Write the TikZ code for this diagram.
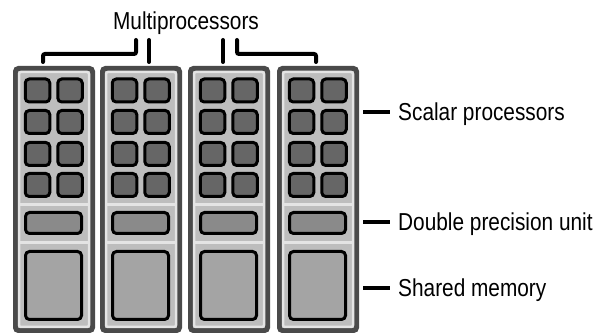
\documentclass[tikz,border=0pt]{standalone}
\usepackage{fontspec}
\setmainfont{Liberation Sans}[FakeStretch=0.85]
\definecolor{pdark}{HTML}{4A4A4A}
\definecolor{plight}{HTML}{E4E4E4}
\definecolor{pbody}{HTML}{BDBDBD}
\definecolor{cellgray}{HTML}{666666}
\definecolor{dpgray}{HTML}{8A8A8A}
\definecolor{smgray}{HTML}{A4A4A4}
\begin{document}
\begin{tikzpicture}[x=1pt,y=-1pt,
  panelout/.style={draw=pdark, line width=5pt, fill=pbody, rounded corners=3pt, inner sep=0pt},
  panelin/.style={draw=plight, line width=2.5pt, rounded corners=2pt, inner sep=0pt},
  strip/.style={draw=plight, line width=3pt},
  cell/.style={draw=black, line width=3pt, fill=cellgray, rounded corners=4pt, inner sep=0pt, minimum width=24.5pt, minimum height=23pt},
  dpunit/.style={draw=black, line width=3pt, fill=dpgray, rounded corners=4pt, inner sep=0pt, minimum width=56pt, minimum height=21pt},
  smem/.style={draw=black, line width=3pt, fill=smgray, rounded corners=4pt, inner sep=0pt, minimum width=56pt, minimum height=68pt},
  lbl/.style={font=\fontsize{24.5}{29}\selectfont, inner sep=0pt, anchor=base west},
  tick/.style={draw=black, line width=3.5pt},
  brk/.style={draw=black, line width=4pt, line cap=round, rounded corners=2pt}]
\useasboundingbox (0,0) rectangle (605,336);
\foreach \p/\X in {1/13,2/100,3/188,4/277}{
  \begin{scope}[shift={(\X,0)}]
    \node[panelout, minimum width=77pt, minimum height=262pt] (mp\p) at (41,199.5) {};
    \node[panelin, minimum width=70pt, minimum height=255pt] (mpin\p) at (41,199.5) {};
    \coordinate (sa\p) at (7,205); \coordinate (sb\p) at (75,205);
    \coordinate (sc\p) at (7,243); \coordinate (sd\p) at (75,243);
    \draw[strip] (sa\p) -- (sb\p);
    \draw[strip] (sc\p) -- (sd\p);
    \foreach \r/\Y in {1/90.5,2/122,3/154,4/185}{
      \node[cell] (c\p-\r-1) at (24.5,\Y) {};
      \node[cell] (c\p-\r-2) at (57,\Y) {};
    }
    \node[dpunit] (dp\p) at (40.5,223) {};
    \node[smem] (sm\p) at (40.5,285.5) {};
  \end{scope}
}
\node[lbl, anchor=base] (multi) at (186,30) {Multiprocessors};
\coordinate (b1) at (43,62); \coordinate (b2) at (43,54);
\coordinate (b3) at (136,54); \coordinate (b4) at (136,40);
\coordinate (b5) at (149,40); \coordinate (b6) at (149,62);
\coordinate (b7) at (223,40); \coordinate (b8) at (223,62);
\coordinate (b9) at (237,40); \coordinate (b10) at (237,54);
\coordinate (b11) at (316,54); \coordinate (b12) at (316,62);
\draw[brk] (b1) -- (b2) -- (b3) -- (b4);
\draw[brk] (b5) -- (b6);
\draw[brk] (b7) -- (b8);
\draw[brk] (b9) -- (b10) -- (b11) -- (b12);
\node[lbl] (lsp) at (398,121) {Scalar processors};
\node[lbl] (ldp) at (398,231) {Double precision unit};
\node[lbl] (lsm) at (398,297) {Shared memory};
\coordinate (t1a) at (363,112); \coordinate (t1b) at (390,112);
\coordinate (t2a) at (363,222); \coordinate (t2b) at (390,222);
\coordinate (t3a) at (363,288); \coordinate (t3b) at (390,288);
\draw[tick] (t1a) -- (t1b);
\draw[tick] (t2a) -- (t2b);
\draw[tick] (t3a) -- (t3b);
\end{tikzpicture}
\end{document}
